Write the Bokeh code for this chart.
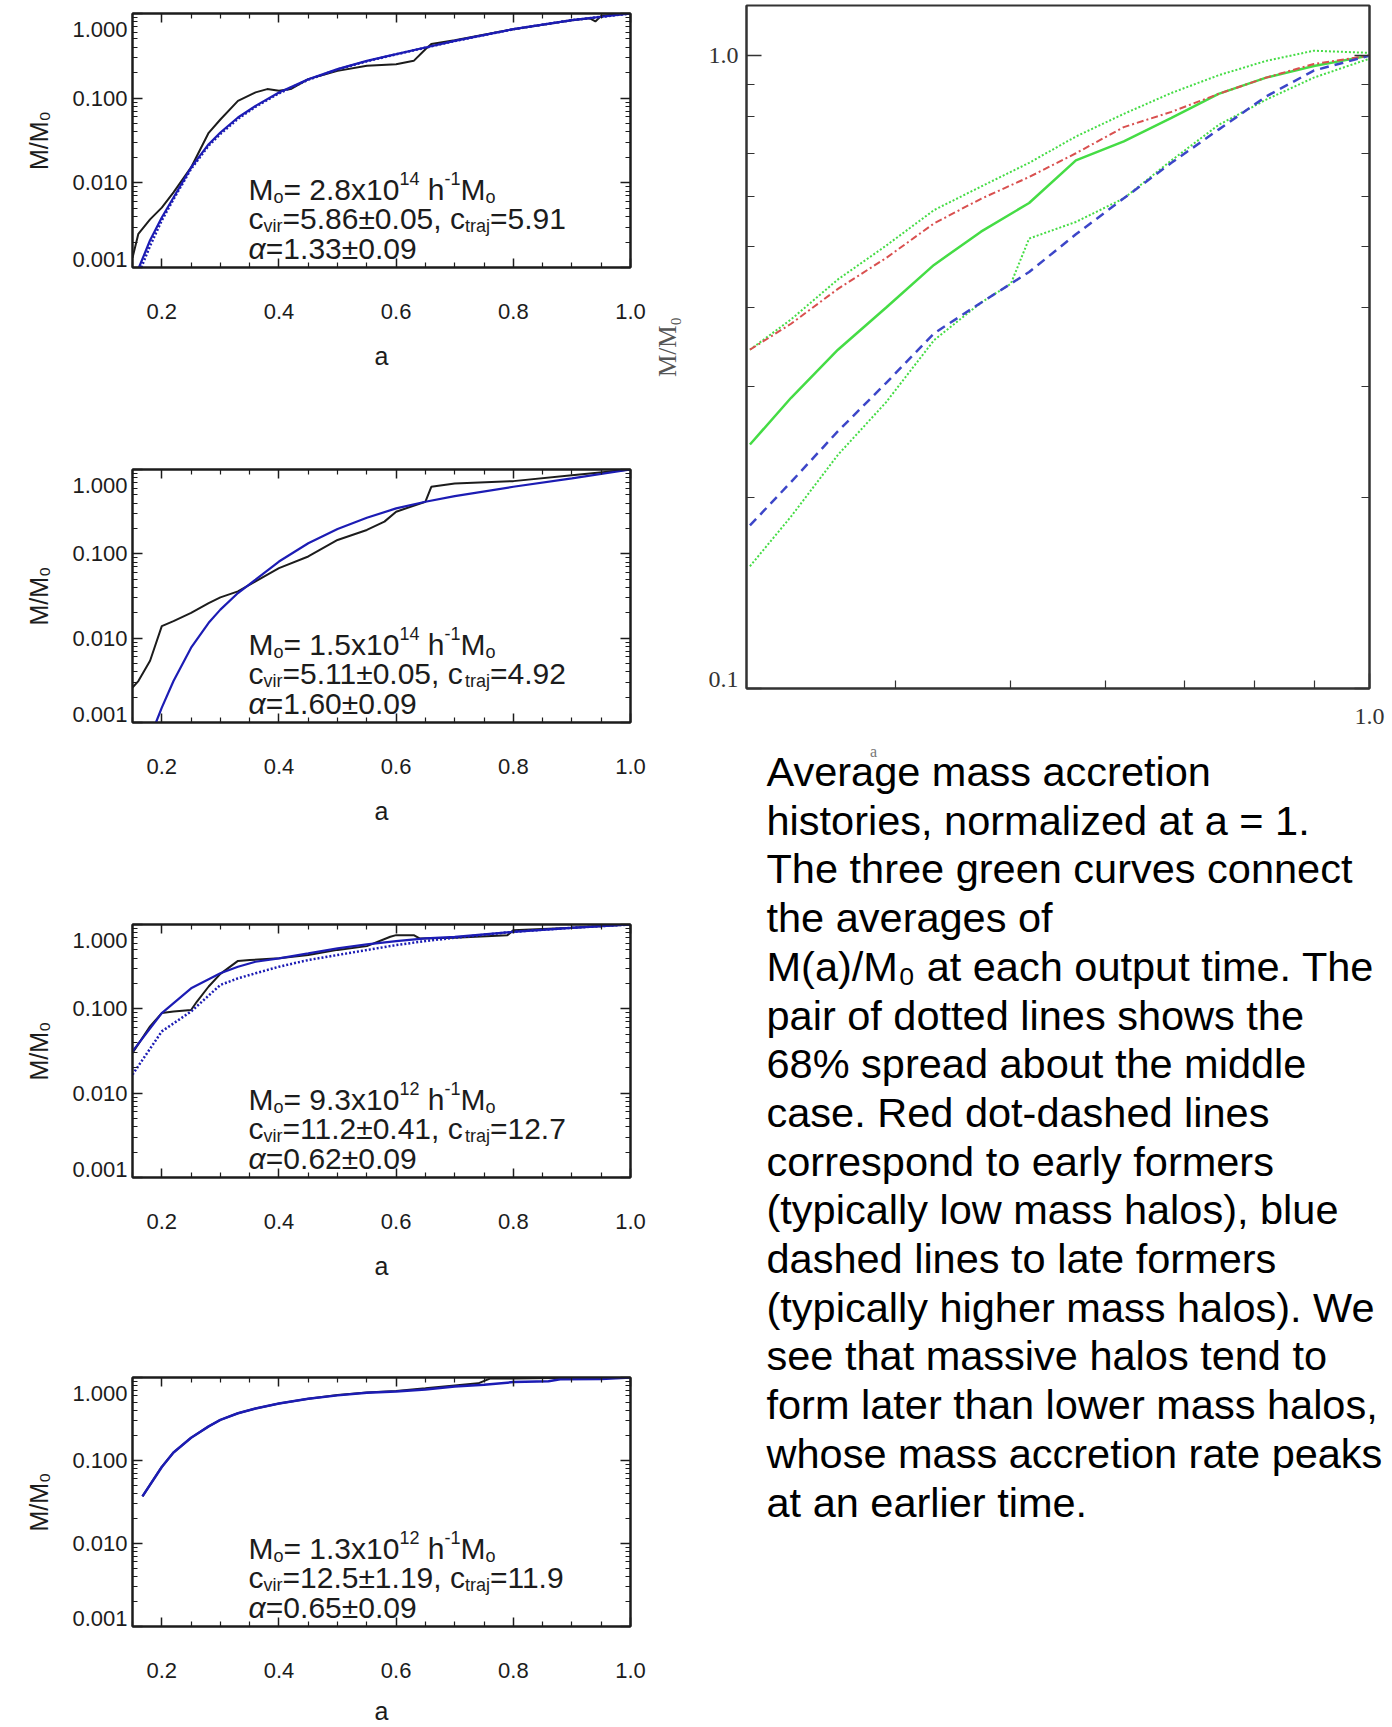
import math
from bokeh.plotting import figure
from bokeh.models import (Range1d, FixedTicker, PrintfTickFormatter, CustomJSTickFormatter,
                          LinearAxis, LogAxis, Label)
from bokeh.layouts import row, column
from bokeh.embed import file_html
from bokeh.resources import INLINE

# ---------------- data ----------------
# Panel 1: M0 = 2.8e14
p1_a_black = [0.15, 0.16, 0.18, 0.20, 0.22, 0.25, 0.28, 0.30, 0.33, 0.36, 0.38, 0.40, 0.42, 0.45,
              0.50, 0.55, 0.60, 0.63, 0.65, 0.66, 0.70, 0.80, 0.90, 0.93, 0.94, 0.95, 1.0]
p1_m_black = [0.0013, 0.0025, 0.0037, 0.0051, 0.0077, 0.0152, 0.039, 0.056, 0.093, 0.117, 0.128, 0.122,
              0.128, 0.168, 0.210, 0.241, 0.252, 0.276, 0.379, 0.435, 0.484, 0.653, 0.834, 0.88, 0.805, 0.938, 1.0]
p1_a_fit = [0.161, 0.18, 0.20, 0.22, 0.25, 0.28, 0.30, 0.33, 0.36, 0.40, 0.45, 0.50, 0.55, 0.60, 0.65,
            0.70, 0.80, 0.90, 1.0]
p1_m_fit = [0.001, 0.0021, 0.0039, 0.0067, 0.0152, 0.0286, 0.0393, 0.0591, 0.0811, 0.1166, 0.1676,
            0.2203, 0.276, 0.331, 0.397, 0.475, 0.653, 0.834, 1.0]
p1_a_dot = [0.165, 0.18, 0.20, 0.22, 0.25, 0.28, 0.30, 0.33, 0.36, 0.40, 0.45, 0.50, 0.55, 0.60, 0.65,
            0.70, 0.80, 0.90, 1.0]
p1_m_dot = [0.001, 0.0018, 0.0036, 0.0064, 0.0146, 0.0275, 0.0378, 0.057, 0.079, 0.114, 0.165, 0.218,
            0.273, 0.329, 0.395, 0.473, 0.652, 0.834, 1.0]

# Panel 2: M0 = 1.5e14
p2_a_black = [0.15, 0.16, 0.18, 0.20, 0.22, 0.25, 0.28, 0.30, 0.33, 0.36, 0.40, 0.45, 0.50, 0.55, 0.58,
              0.60, 0.65, 0.66, 0.70, 0.80, 0.90, 1.0]
p2_m_black = [0.0026, 0.0031, 0.0054, 0.0139, 0.0159, 0.0199, 0.0261, 0.0305, 0.0359, 0.0471, 0.0677,
              0.093, 0.146, 0.192, 0.241, 0.316, 0.415, 0.624, 0.684, 0.728, 0.857, 1.0]
p2_a_fit = [0.19, 0.20, 0.22, 0.25, 0.28, 0.30, 0.33, 0.36, 0.40, 0.45, 0.50, 0.55, 0.60, 0.65, 0.70,
            0.80, 0.90, 1.0]
p2_m_fit = [0.001, 0.0015, 0.0031, 0.0077, 0.0152, 0.0218, 0.0343, 0.0493, 0.081, 0.1335, 0.197, 0.268,
            0.346, 0.415, 0.484, 0.624, 0.783, 1.0]

# Panel 3: M0 = 9.3e12
p3_a_black = [0.15, 0.18, 0.20, 0.22, 0.25, 0.26, 0.28, 0.30, 0.33, 0.35, 0.40, 0.45, 0.50, 0.55, 0.59,
              0.60, 0.63, 0.64, 0.70, 0.79, 0.80, 0.90, 1.0]
p3_m_black = [0.030, 0.062, 0.089, 0.093, 0.097, 0.122, 0.184, 0.26, 0.37, 0.379, 0.397, 0.435, 0.50,
              0.554, 0.715, 0.748, 0.748, 0.684, 0.697, 0.748, 0.857, 0.914, 1.0]
p3_a_fit = [0.15, 0.20, 0.25, 0.30, 0.33, 0.36, 0.40, 0.45, 0.50, 0.55, 0.60, 0.65, 0.70, 0.80, 0.90, 1.0]
p3_m_fit = [0.0313, 0.0889, 0.175, 0.264, 0.316, 0.362, 0.397, 0.454, 0.521, 0.581, 0.636, 0.684, 0.715,
            0.819, 0.914, 1.0]
p3_m_dot = [0.0166, 0.054, 0.093, 0.192, 0.230, 0.264, 0.316, 0.379, 0.435, 0.498, 0.570, 0.636, 0.697,
            0.819, 0.914, 1.0]

# Panel 4: M0 = 1.3e12
p4_a_black = [0.167, 0.20, 0.22, 0.25, 0.28, 0.30, 0.33, 0.36, 0.40, 0.45, 0.50, 0.55, 0.60, 0.65, 0.70,
              0.74, 0.76, 0.80, 0.90, 1.0]
p4_m_black = [0.037, 0.084, 0.125, 0.188, 0.258, 0.309, 0.371, 0.424, 0.485, 0.556, 0.615, 0.66, 0.69,
              0.74, 0.80, 0.85, 0.97, 0.97, 0.99, 1.0]
p4_a_fit = [0.167, 0.20, 0.22, 0.25, 0.28, 0.30, 0.33, 0.36, 0.40, 0.45, 0.50, 0.55, 0.60, 0.65, 0.70,
            0.75, 0.80, 0.86, 0.88, 0.95, 1.0]
p4_m_fit = [0.037, 0.0836, 0.125, 0.188, 0.258, 0.309, 0.371, 0.424, 0.485, 0.556, 0.609, 0.654, 0.678,
            0.716, 0.78, 0.82, 0.88, 0.90, 0.95, 0.96, 1.0]

# Right panel: average mass accretion histories
r_a = [0.302, 0.327, 0.358, 0.393, 0.431, 0.472, 0.518, 0.567, 0.622, 0.682, 0.747, 0.819, 0.898, 1.0]
r_upper = [0.343, 0.383, 0.443, 0.501, 0.570, 0.621, 0.677, 0.745, 0.809, 0.873, 0.931, 0.981, 1.018, 1.01]
r_early = [0.343, 0.377, 0.428, 0.479, 0.543, 0.594, 0.643, 0.701, 0.771, 0.815, 0.870, 0.923, 0.970, 1.0]
r_middle = [0.243, 0.288, 0.343, 0.400, 0.467, 0.527, 0.585, 0.683, 0.732, 0.797, 0.870, 0.923, 0.963, 1.0]
r_late = [0.181, 0.212, 0.255, 0.304, 0.364, 0.407, 0.455, 0.522, 0.595, 0.677, 0.764, 0.862, 0.947, 1.0]
r_a_lower = [0.302, 0.327, 0.358, 0.393, 0.431, 0.472, 0.50, 0.518, 0.567, 0.622, 0.682, 0.747, 0.819,
             0.898, 1.0]
r_lower = [0.156, 0.187, 0.234, 0.2835, 0.355, 0.407, 0.436, 0.514, 0.546, 0.595, 0.683, 0.777, 0.852,
           0.923, 0.989]

# Axis ticks / labels
X_MAJOR = [0.2, 0.4, 0.6, 0.8, 1.0]
X_MINOR = [0.15, 0.25, 0.3, 0.35, 0.45, 0.5, 0.55, 0.65, 0.7, 0.75, 0.85, 0.9, 0.95]
Y_MAJOR = [0.001, 0.01, 0.1, 1.0]
Y_LABELS = ["0.001", "0.010", "0.100", "1.000"]
Y_LABEL_AT = [0.00124, 0.01, 0.1, 0.647]      # IDL draws the end labels nudged inward
Y_MINOR = [m * d for d in (0.001, 0.01, 0.1) for m in range(2, 10)]
R_X_MINOR = [0.3, 0.4, 0.5, 0.6, 0.7, 0.8, 0.9]
R_Y_MAJOR = [0.1, 1.0]
R_Y_LABELS = ["0.1", "1.0"]
R_Y_LABEL_AT = [0.1033, 1.0]
R_Y_MINOR = [0.2, 0.3, 0.4, 0.5, 0.6, 0.7, 0.8, 0.9]

annotations = [
    ("2.8x10", "14", "5.86\u00b10.05", "5.91", "1.33\u00b10.09"),
    ("1.5x10", "14", "5.11\u00b10.05", "4.92", "1.60\u00b10.09"),
    ("9.3x10", "12", "11.2\u00b10.41", "12.7", "0.62\u00b10.09"),
    ("1.3x10", "12", "12.5\u00b11.19", "11.9", "0.65\u00b10.09"),
]

paragraph = [
    "Average mass accretion",
    "histories, normalized at a = 1.",
    "The three green curves connect",
    "the averages of",
    "M(a)/M\u2080 at each output time. The",
    "pair of dotted lines shows the",
    "68% spread about the middle",
    "case. Red dot-dashed lines",
    "correspond to early formers",
    "(typically low mass halos), blue",
    "dashed lines to late formers",
    "(typically higher mass halos). We",
    "see that massive halos tend to",
    "form later than lower mass halos,",
    "whose mass accretion rate peaks",
    "at an earlier time.",
]

# ---------------- styling helpers ----------------
SANS = "Liberation Sans"
SERIF = "Liberation Serif"
INK = "#1c1c1c"
BLUE = "#1c1cb4"
LEFT_W = 650
RIGHT_W = 1392 - LEFT_W

ARIAL_W = {" ": 278, ".": 278, ",": 278, "=": 584, "\u00b1": 549, "x": 500, "h": 556, "M": 833,
           "o": 556, "c": 500, "v": 500, "i": 222, "r": 333, "t": 278, "a": 556, "j": 222, "-": 333,
           "\u03b1": 578}


def text_width(s, size):
    return sum(ARIAL_W.get(ch, 556) for ch in s) * size / 1000.0


def rich_line(p, x0, y0, segments, size=30):
    x = x0
    for txt, kind in segments:
        fs, dy, style = size, 0.0, "normal"
        if kind == "sub":
            fs, dy = size * 0.6, -size * 0.25
        elif kind == "sup":
            fs, dy = size * 0.6, size * 0.36
        elif kind == "it":
            style = "italic"
        lead = len(txt) - len(txt.lstrip(" "))
        x += text_width(" " * lead, fs)
        body = txt.strip(" ")
        p.add_layout(Label(x=x, y=y0 + dy, x_units="screen", y_units="screen", text=body,
                           text_font=SANS, text_font_size=f"{fs:.0f}px", text_color=INK,
                           text_font_style=style, text_align="left", text_baseline="alphabetic"))
        x += text_width(body, fs)


def tick_style(ax, major_in, minor_in, color=INK):
    ax.major_tick_in = major_in
    ax.major_tick_out = 0
    ax.minor_tick_in = minor_in
    ax.minor_tick_out = 0
    ax.major_tick_line_color = color
    ax.minor_tick_line_color = color
    ax.major_tick_line_width = 1.5
    ax.minor_tick_line_width = 1.2
    ax.axis_line_color = color
    ax.axis_line_width = 2


def hide_labels(ax):
    ax.major_label_text_color = None
    ax.major_label_text_font_size = "1px"
    ax.major_label_standoff = 0


def label_only_axis(cls, at, labels, font, size, color, standoff, title, title_font, title_size,
                    title_color, title_standoff):
    ax = cls(ticker=FixedTicker(ticks=at, minor_ticks=[]),
             formatter=CustomJSTickFormatter(args=dict(labels=labels), code="return labels[index];"))
    ax.major_tick_in = 0
    ax.major_tick_out = 0
    ax.minor_tick_in = 0
    ax.minor_tick_out = 0
    ax.major_tick_line_color = None
    ax.minor_tick_line_color = None
    ax.axis_line_color = None
    ax.major_label_text_font = font
    ax.major_label_text_font_size = size
    ax.major_label_text_color = color
    ax.major_label_standoff = standoff
    ax.axis_label = title
    ax.axis_label_text_font = title_font
    ax.axis_label_text_font_size = title_size
    ax.axis_label_text_font_style = "normal"
    ax.axis_label_text_color = title_color
    ax.axis_label_standoff = title_standoff
    return ax


def left_panel(height, top, frame_h, series, annot, a_standoff):
    bottom = height - top - frame_h
    p = figure(width=LEFT_W, height=height, title=None, x_range=Range1d(0.15, 1.0),
               y_range=Range1d(0.001, 1.0), y_axis_type="log", output_backend="svg",
               toolbar_location=None, min_border_left=132, min_border_right=LEFT_W - 630,
               min_border_top=top, min_border_bottom=bottom)
    p.xgrid.visible = False
    p.ygrid.visible = False
    p.outline_line_color = INK
    p.outline_line_width = 2
    p.background_fill_color = "white"
    p.border_fill_color = "white"
    xt = FixedTicker(ticks=X_MAJOR, minor_ticks=X_MINOR)
    yt = FixedTicker(ticks=Y_MAJOR, minor_ticks=Y_MINOR)

    xa = p.xaxis[0]
    xa.ticker = xt
    xa.formatter = PrintfTickFormatter(format="%.1f")
    tick_style(xa, 9, 5)
    xa.major_label_text_font = SANS
    xa.major_label_text_font_size = "22px"
    xa.major_label_text_color = INK
    xa.major_label_standoff = 36
    xa.axis_label = "a"
    xa.axis_label_text_font = SANS
    xa.axis_label_text_font_size = "25px"
    xa.axis_label_text_font_style = "normal"
    xa.axis_label_text_color = INK
    xa.axis_label_standoff = a_standoff

    ya = p.yaxis[0]
    ya.ticker = yt
    tick_style(ya, 10, 5)
    hide_labels(ya)
    p.add_layout(label_only_axis(LogAxis, Y_LABEL_AT, Y_LABELS, SANS, "22px", INK, 5,
                                 "M/M\u2080", SANS, "25px", INK, 16), "left")

    top_ax = LinearAxis(ticker=xt)
    tick_style(top_ax, 9, 5)
    hide_labels(top_ax)
    p.add_layout(top_ax, "above")
    right_ax = LogAxis(ticker=yt)
    tick_style(right_ax, 10, 5)
    hide_labels(right_ax)
    p.add_layout(right_ax, "right")

    for a, m, color, dash, w in series:
        p.line(a, m, line_color=color, line_dash=dash, line_width=w)

    mant, expo, cvir, ctraj, alpha = annot
    x0 = 116
    rich_line(p, x0, 78, [("M", "n"), ("o", "sub"), ("= " + mant, "n"), (expo, "sup"), (" h", "n"),
                          ("-1", "sup"), ("M", "n"), ("o", "sub")])
    rich_line(p, x0, 49, [("c", "n"), ("vir", "sub"), ("=" + cvir + ", c", "n"), ("traj", "sub"),
                          ("=" + ctraj, "n")])
    rich_line(p, x0, 19, [("\u03b1", "it"), ("=" + alpha, "n")])
    return p


p1 = left_panel(455, 13, 254, [
    (p1_a_black, p1_m_black, INK, "solid", 2),
    (p1_a_dot, p1_m_dot, BLUE, "2 2", 2.5),
    (p1_a_fit, p1_m_fit, BLUE, "solid", 2.2),
], annotations[0], 20)

p2 = left_panel(455, 14, 253, [
    (p2_a_black, p2_m_black, INK, "solid", 2),
    (p2_a_fit, p2_m_fit, BLUE, "solid", 2.2),
], annotations[1], 20)

p3 = left_panel(455, 14, 253, [
    (p3_a_black, p3_m_black, INK, "solid", 2),
    (p3_a_fit, p3_m_dot, BLUE, "2 2", 2.5),
    (p3_a_fit, p3_m_fit, BLUE, "solid", 2.2),
], annotations[2], 20)

p4 = left_panel(362, 12, 253, [
    (p4_a_black, p4_m_black, INK, "solid", 2),
    (p4_a_fit, p4_m_fit, BLUE, "solid", 2.5),
], annotations[3], 16)

# ---------------- right panel ----------------
GRAY = "#333333"
pr = figure(width=RIGHT_W, height=740, title=None, x_range=Range1d(0.3, 1.0), y_range=Range1d(0.1, 1.2),
            x_axis_type="log", y_axis_type="log", output_backend="svg", toolbar_location=None,
            min_border_left=741 - LEFT_W, min_border_right=23, min_border_top=5, min_border_bottom=52)
pr.frame_align = False
pr.xgrid.visible = False
pr.ygrid.visible = False
pr.outline_line_color = GRAY
pr.outline_line_width = 2
pr.background_fill_color = "white"
pr.border_fill_color = "white"

rxt = FixedTicker(ticks=[1.0], minor_ticks=R_X_MINOR)
ryt = FixedTicker(ticks=R_Y_MAJOR, minor_ticks=R_Y_MINOR)
rxa = pr.xaxis[0]
rxa.ticker = rxt
rxa.formatter = PrintfTickFormatter(format="%.1f")
tick_style(rxa, 15, 8, GRAY)
rxa.major_label_text_font = SERIF
rxa.major_label_text_font_size = "24px"
rxa.major_label_text_color = GRAY
rxa.major_label_standoff = 20
rya = pr.yaxis[0]
rya.ticker = ryt
tick_style(rya, 15, 8, GRAY)
hide_labels(rya)
pr.add_layout(label_only_axis(LogAxis, R_Y_LABEL_AT, R_Y_LABELS, SERIF, "24px", GRAY, 8,
                              "M/M\u2080", SERIF, "25px", "#555555", 25), "left")
rra = LogAxis(ticker=ryt)
tick_style(rra, 15, 8, GRAY)
hide_labels(rra)
pr.add_layout(rra, "right")

GREEN = "#45dc45"
pr.line(r_a, r_upper, line_color=GREEN, line_dash="2 2", line_width=2)
pr.line(r_a_lower, r_lower, line_color=GREEN, line_dash="2 2", line_width=2)
pr.line(r_a, r_middle, line_color=GREEN, line_dash="solid", line_width=2.5)
pr.line(r_a, r_early, line_color="#d9504f", line_dash="7 3 2 3", line_width=2)
pr.line(r_a, r_late, line_color="#3c46c8", line_dash="9 6", line_width=2.5)

# ---------------- caption panel ----------------
pt = figure(width=RIGHT_W, height=987, title=None, x_range=Range1d(0, 1), y_range=Range1d(0, 1),
            x_axis_location=None, y_axis_location=None, output_backend="svg",
            toolbar_location=None, min_border=0)
pt.frame_align = False
pt.xgrid.visible = False
pt.ygrid.visible = False
pt.outline_line_color = None
pt.add_layout(Label(x=873 - LEFT_W, y=976, x_units="screen", y_units="screen", text="a",
                    text_align="center", text_baseline="middle", text_font=SERIF,
                    text_font_size="16px", text_color="#777777"))
for i, line in enumerate(paragraph):
    pt.add_layout(Label(x=766 - LEFT_W, y=956 - 48.7 * i, x_units="screen", y_units="screen",
                        text=line, text_align="left", text_baseline="middle", text_font=SANS,
                        text_font_size="41.5px", text_color="black"))

layout = row(column(p1, p2, p3, p4), column(pr, pt))
open("out.html", "w").write(file_html(layout, INLINE))
